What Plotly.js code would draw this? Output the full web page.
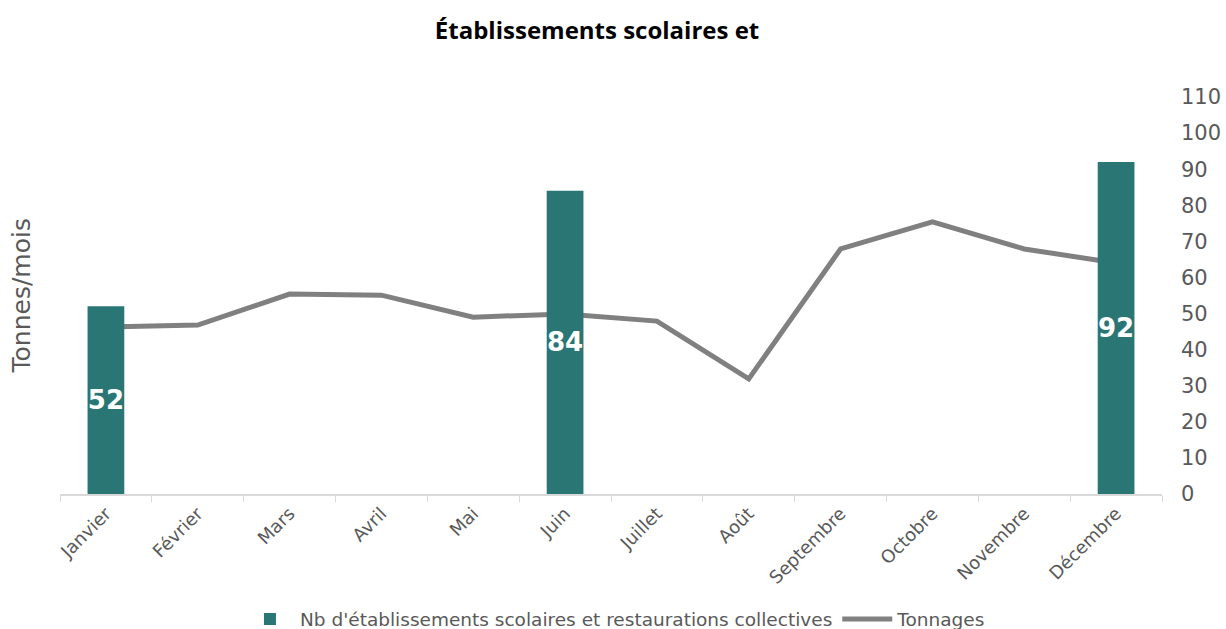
<!DOCTYPE html>
<html>
<head>
<meta charset="utf-8">
<script src="https://cdn.plot.ly/plotly-3.0.1.min.js"></script>
<style>html,body{margin:0;padding:0;background:#fff;}#chart{width:1226px;height:629px;}</style>
</head>
<body>
<div id="chart"></div>
<script>
const months = ["Janvier","Février","Mars","Avril","Mai","Juin","Juillet","Août","Septembre","Octobre","Novembre","Décembre"];
const etablissements = [52, null, null, null, null, 84, null, null, null, null, null, 92];
const tonnages = [46.3, 46.8, 55.4, 55.1, 49.0, 49.9, 47.9, 31.9, 67.9, 75.4, 67.9, 64.0];
const barName = "Nb d'établissements scolaires et restaurations collectives";
const lineName = "Tonnages";
const titleText = "Établissements scolaires et";
const yTitle = "Tonnes/mois";

const traces = [
  {
    type: 'bar', x: months, y: etablissements, name: barName, yaxis: 'y2',
    marker: {color: '#2a7675'}, width: 0.4,
    text: etablissements.map(v => v == null ? '' : String(v)),
    textposition: 'inside', insidetextanchor: 'middle', constraintext: 'none', textangle: 0,
    textfont: {family: 'DejaVu Sans', size: 26, color: '#ffffff', weight: 'bold'},
    hoverinfo: 'x+y'
  },
  {
    type: 'scatter', mode: 'lines', x: months, y: tonnages, name: lineName, yaxis: 'y',
    line: {color: '#808080', width: 5}
  }
];

const layout = {
  width: 1226, height: 629,
  margin: {l: 60, r: 64, t: 97, b: 135},
  paper_bgcolor: '#ffffff', plot_bgcolor: '#ffffff',
  title: {text: '<b>' + titleText + '</b>', x: 0.487, xanchor: 'center', y: 0.952, yanchor: 'middle',
          font: {family: 'Open Sans', size: 24, color: '#000000'}},
  font: {family: 'DejaVu Sans', color: '#595959'},
  xaxis: {
    type: 'category', tickangle: -45, tickson: 'boundaries', ticks: 'outside', ticklen: 6,
    tickcolor: '#d9d9d9', showline: true, linecolor: '#d9d9d9', linewidth: 2, showgrid: false,
    tickfont: {family: 'DejaVu Sans', size: 18, color: '#595959'}, zeroline: false, automargin: false
  },
  yaxis: {
    range: [0, 110], showticklabels: false, showgrid: false, zeroline: false, showline: false, automargin: false
  },
  yaxis2: {
    overlaying: 'y', side: 'right', range: [0, 110], dtick: 10, showgrid: false, zeroline: false,
    showline: false, ticks: '', ticklabelstandoff: 18, automargin: false,
    tickfont: {family: 'DejaVu Sans', size: 21, color: '#595959'}
  },
  annotations: [{
    text: yTitle, xref: 'paper', yref: 'paper', x: -0.0345, y: 0.5, xanchor: 'center', yanchor: 'middle',
    textangle: -90, showarrow: false, font: {family: 'DejaVu Sans', size: 25, color: '#595959'}
  }],
  showlegend: true,
  legend: {orientation: 'h', x: 0.502, xanchor: 'center', xref: 'container', yref: 'container', y: 0.015, yanchor: 'middle',
           itemwidth: 50, font: {family: 'DejaVu Sans', size: 18.5, color: '#595959'}, traceorder: 'normal'},
  bargap: 0.6
};

Plotly.newPlot('chart', traces, layout, {displayModeBar: false});
</script>
</body>
</html>
